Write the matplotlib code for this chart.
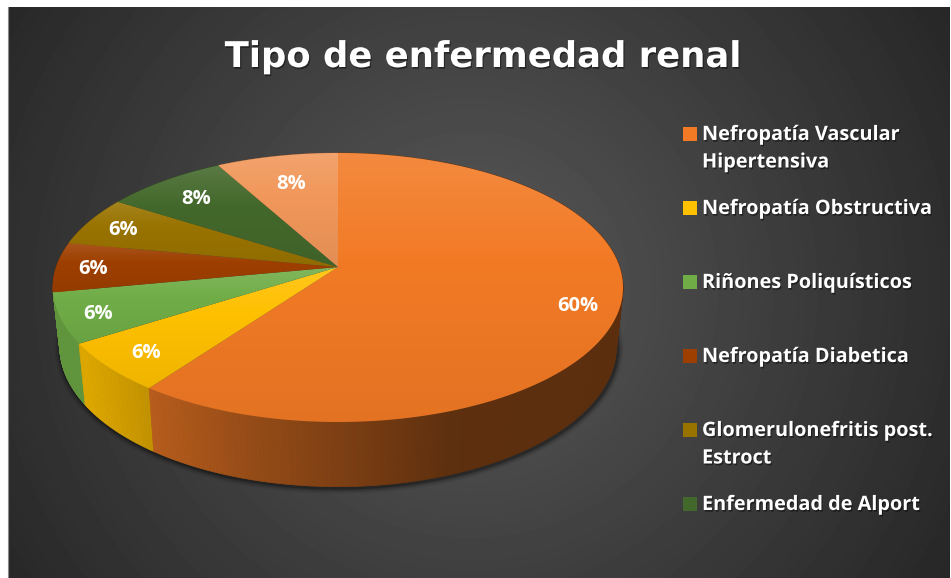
import numpy as np
import matplotlib
matplotlib.use("Agg")
import matplotlib.pyplot as plt
import matplotlib.patheffects as pe
from matplotlib.collections import PolyCollection
from matplotlib.colors import to_rgb
from matplotlib.patches import Polygon

title = "Tipo de enfermedad renal"
values = [60, 6, 6, 6, 6, 8, 8]
slice_colors = ["#F27A25", "#FFC000", "#70AD47", "#9E3F00", "#997300", "#43682B", "#F1975A"]
legend_labels = [
    "Nefropatía Vascular\nHipertensiva",
    "Nefropatía Obstructiva",
    "Riñones Poliquísticos",
    "Nefropatía Diabetica",
    "Glomerulonefritis post.\nEstroct",
    "Enfermedad de Alport",
]

W, H = 951, 578
plt.rcParams["font.family"] = ["Open Sans", "DejaVu Sans"]

fig = plt.figure(figsize=(W / 100, H / 100), dpi=100, facecolor="white")
ax = fig.add_axes([0, 0, 1, 1])
ax.set_xlim(0, W)
ax.set_ylim(H, 0)
ax.axis("off")

# background, radial gray
px, py = np.meshgrid(np.arange(8, 950), np.arange(7, H))
bg = np.maximum(89 - 0.09 * np.hypot(px - 470, py - 290), 38) / 255
ax.imshow(bg, cmap="gray", vmin=0, vmax=1, extent=(8, 950, H, 7), aspect="auto", zorder=0)
ax.plot([8, 8], [7, H], color="#8a8a8a", lw=0.8, zorder=1)


# the pie is a circle seen in perspective, these were fitted on the picture
def top_xy(theta, rho=1.0):
    u, v = rho * np.sin(theta), rho * np.cos(theta)
    d = 1 + 0.1524 * v
    return 338 + 281.7 * u / d, 267 - 131.4 * v / d


def bottom_xy(theta):
    u, v = np.sin(theta), np.cos(theta)
    d = 1 + 0.1524 * v
    return 338 + 275 * u / d, 325 - 137 * v / d


edges = 2 * np.pi * np.concatenate([[0], np.cumsum(values)]) / np.sum(values)

# shadow under the wall
t = np.linspace(np.pi * 0.3, np.pi * 1.55, 300)
sx, sy = bottom_xy(t)
for lw, a in [(9, 0.05), (7, 0.08), (5, 0.12), (3, 0.25)]:
    ax.plot(sx + 1, sy + 1, color="black", lw=lw, alpha=a, zorder=2, solid_capstyle="round")

# side wall, darker towards the right
quads, quad_colors, depth = [], [], []
for i, c in enumerate(slice_colors):
    base = np.array(to_rgb(c))
    n = max(int(values[i] * 6), 6)
    th = np.linspace(edges[i], edges[i + 1], n + 1)
    for a, b in zip(th[:-1], th[1:]):
        x0, y0 = top_xy(a)
        x1, y1 = top_xy(b)
        x2, y2 = bottom_xy(b)
        x3, y3 = bottom_xy(a)
        f = np.interp((x0 + x1) / 2, [60, 85, 150, 250, 340, 450, 620],
                      [0.86, 0.88, 0.76, 0.62, 0.52, 0.39, 0.38])
        quads.append([(x0, y0), (x1, y1), (x2, y2), (x3, y3)])
        quad_colors.append(base * f)
        depth.append(np.cos((a + b) / 2))
order = np.argsort(depth)[::-1]
ax.add_collection(PolyCollection([quads[k] for k in order],
                                 facecolors=[quad_colors[k] for k in order],
                                 edgecolors=[quad_colors[k] for k in order],
                                 linewidths=0.5, zorder=3))

# top of each slice, own vertical gradient
for i, c in enumerate(slice_colors):
    base = np.array(to_rgb(c))
    th = np.linspace(edges[i], edges[i + 1], 200)
    ex, ey = top_xy(th)
    xs = np.concatenate([[338], ex])
    ys = np.concatenate([[267], ey])
    s = np.linspace(0, 1, 64)[:, None]
    grad = np.where(s < 0.4,
                    base + (1 - base) * 0.12 * (1 - s / 0.4),
                    base * (1 - 0.06 * (s - 0.4) / 0.6))
    im = ax.imshow(grad[:, None, :], extent=(xs.min(), xs.max(), ys.max(), ys.min()),
                   aspect="auto", interpolation="bilinear", zorder=4)
    poly = Polygon(np.column_stack([xs, ys]), closed=True, transform=ax.transData,
                   facecolor="none", edgecolor="none")
    ax.add_patch(poly)
    im.set_clip_path(poly)

ax.set_xlim(0, W)
ax.set_ylim(H, 0)

# percent labels
label_rho = [0.86, 0.85, 0.87, 0.87, 0.86, 0.8, 0.75]
for i, v in enumerate(values):
    lx, ly = top_xy((edges[i] + edges[i + 1]) / 2, label_rho[i])
    ax.text(lx, ly + 2.5, f"{v}%", color="white", fontsize=14.5, fontweight="bold",
            ha="center", va="center", zorder=6)

soft = [pe.withSimplePatchShadow(offset=(0.8, -1.2), shadow_rgbFace="black", alpha=0.45)]

ax.text(483, 57, title, color="white", fontsize=25.5, fontweight="bold",
        family=["DejaVu Sans"], ha="center", va="center", zorder=6, path_effects=soft)

# legend
for i, lab in enumerate(legend_labels):
    y = 134 + 74 * i
    ax.scatter([689.5], [y], marker="s", s=90, color=slice_colors[i], linewidths=0, zorder=6)
    ax.text(702, y - 9, lab, color="white", fontsize=14.3, fontweight="bold", ha="left", va="top",
            linespacing=1.5, zorder=6, path_effects=soft)

fig.savefig("out.png", dpi=100)
